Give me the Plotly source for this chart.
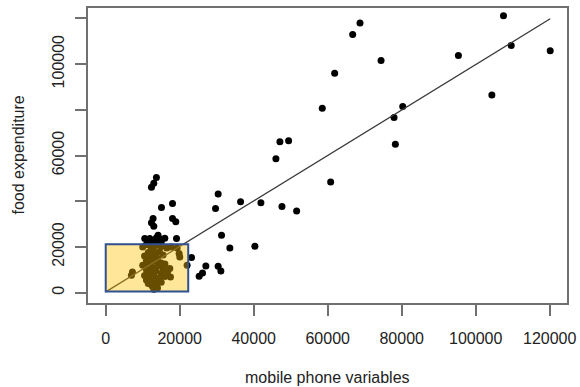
import plotly.graph_objects as go

# ---- data ----
upper_x = [68730, 66750, 107510, 109600, 120140, 95330, 74420, 61880, 58530, 80280,
           77930, 104370, 78290, 60800, 47080, 49430, 46000]
upper_y = [118000, 113000, 121200, 108160, 105840, 103800, 101600, 96050, 80700, 81400,
           76600, 86530, 64900, 48380, 66050, 66500, 58600]

mid_x = [13700, 12990, 12360, 30390, 29680, 36450, 41940, 47630, 51600, 15070,
         18050, 12800, 12360, 18050, 18940, 12990, 31300, 33550, 40320, 23190,
         27060, 26160, 25250, 30390, 31120,
         10550, 11910, 13720, 14610, 15970, 19130, 14150, 13000, 15000, 12300,
         22000, 20020, 19840, 19300, 17770]
mid_y = [50400, 47800, 46050, 43110, 36840, 39740, 39300, 37720, 35660, 37280,
         39030, 32460, 30530, 32460, 30970, 29080, 25130, 19560, 20310, 15350,
         11670, 8600, 7150, 11540, 9470,
         23690, 23690, 24000, 23500, 23800, 23690, 25130, 22500, 22300, 22800,
         11970, 15610, 17100, 19560, 20000]

low_x = [7220, 6950, 17320, 17500, 16700,
         10000, 11000, 12000, 13000, 14000, 15000, 16500, 12500, 11500, 13500,
         14500, 10500, 12000, 13000, 14000, 15500, 11000, 12500, 13500, 15000,
         16000, 10000, 11500, 12500, 14000, 15500, 16500, 11000, 12000, 13500,
         15000, 10500, 12000, 13000, 14500, 16000, 11000, 12500, 13500, 15000,
         11500, 12500, 13500, 14000, 13000]
low_y = [9040, 7590, 10530, 6840, 9000,
         20000, 21000, 20500, 19800, 21000, 20200, 19500, 18500, 17500, 17000,
         18000, 16000, 15500, 16000, 15000, 16500, 14000, 13500, 14000, 13000,
         12500, 12000, 11500, 11000, 11500, 10500, 9500, 10000, 9000, 9500,
         8500, 7500, 7000, 7500, 6500, 7000, 5500, 5000, 5500, 4500,
         4000, 3000, 3500, 2000, 1500]

x_vals = upper_x + mid_x + low_x
y_vals = upper_y + mid_y + low_y

fit_x = [0, 120140]
fit_y = [300, 119870]

highlight_x = [0, 22300]
highlight_y = [500, 21200]

x_ticks = [0, 20000, 40000, 60000, 80000, 100000, 120000]
x_ticklabels = ["0", "20000", "40000", "60000", "80000", "100000", "120000"]
y_ticks = [0, 20000, 40000, 60000, 80000, 100000, 120000]
y_ticklabels = ["0", "20000", "", "60000", "", "100000", ""]

font_family = "Liberation Sans, Arial, Helvetica, sans-serif"
txt_color = "#222222"

fig = go.Figure()
fig.add_trace(go.Scatter(
    x=x_vals, y=y_vals, mode="markers",
    marker=dict(color="black", size=7, line=dict(width=0)),
    showlegend=False, hoverinfo="skip"))
fig.add_trace(go.Scatter(
    x=fit_x, y=fit_y, mode="lines",
    line=dict(color="#3a3a3a", width=1.3),
    showlegend=False, hoverinfo="skip"))

fig.add_shape(type="rect", xref="x", yref="y",
              x0=highlight_x[0], x1=highlight_x[1],
              y0=highlight_y[0], y1=highlight_y[1],
              fillcolor="rgba(255,192,0,0.4)",
              line=dict(color="#2F528F", width=2), layer="above")

axis_common = dict(
    showgrid=False, zeroline=False,
    showline=True, mirror=True, linecolor="#707070", linewidth=1.6,
    ticks="outside", ticklen=11, tickwidth=1.6, tickcolor="#707070",
    tickfont=dict(family=font_family, size=16, color=txt_color),
)

fig.update_xaxes(range=[-4790, 124680], tickvals=x_ticks, ticktext=x_ticklabels,
                 ticklabelstandoff=9, **axis_common)
fig.update_yaxes(range=[-4560, 124560], tickvals=y_ticks, ticktext=y_ticklabels,
                 tickangle=-90, ticklabelstandoff=5, **axis_common)

fig.add_annotation(text="mobile phone variables", xref="paper", yref="paper",
                   x=0.5, y=0, xanchor="center", yanchor="middle", yshift=-74,
                   showarrow=False,
                   font=dict(family=font_family, size=16, color=txt_color))
fig.add_annotation(text="food expenditure", xref="paper", yref="paper",
                   x=0, y=0.5, xanchor="center", yanchor="middle", xshift=-70,
                   textangle=-90, showarrow=False,
                   font=dict(family=font_family, size=16, color=txt_color))

fig.update_layout(
    width=580, height=387,
    margin=dict(l=88, r=13, t=8, b=84, autoexpand=False),
    paper_bgcolor="white", plot_bgcolor="white",
)

fig.write_html("out.html", config={"displayModeBar": False},
               post_script="document.body.style.margin='0';document.body.style.overflow='hidden';")
